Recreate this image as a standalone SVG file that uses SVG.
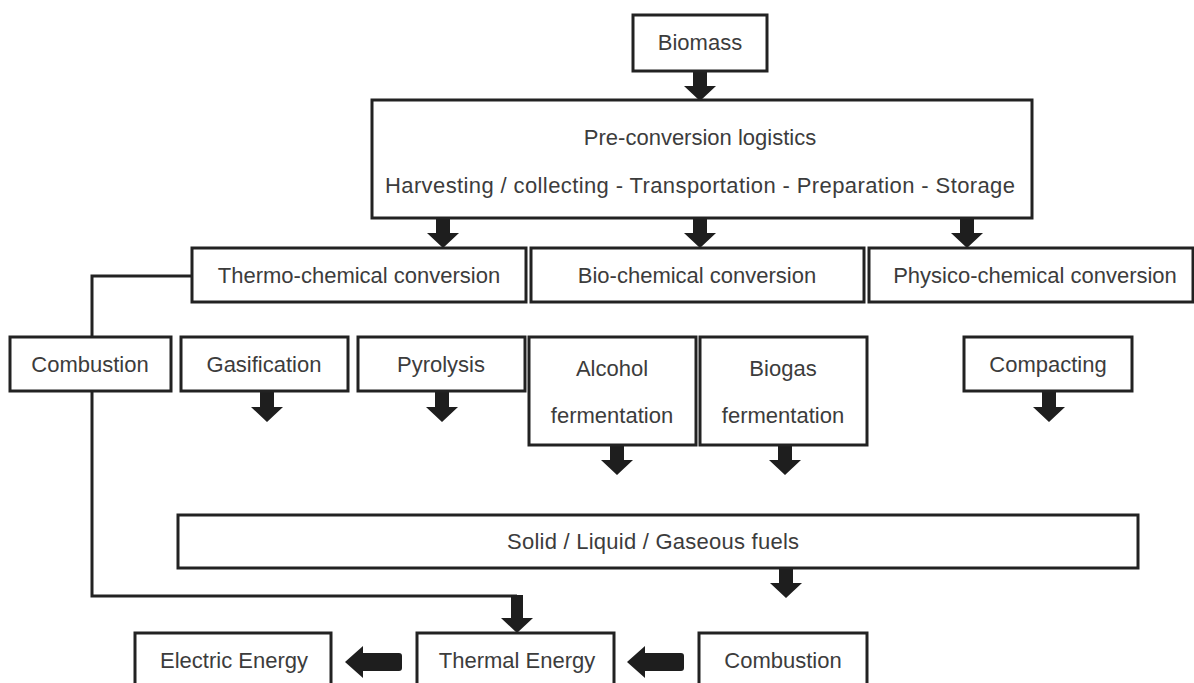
<svg xmlns="http://www.w3.org/2000/svg" width="1194" height="683" viewBox="0 0 1194 683">
<style>
.box{fill:#fff;stroke:#222;stroke-width:3}
.t{font-family:"Liberation Sans",Arial,sans-serif;font-size:22px;fill:#3c3c3c;text-anchor:middle}
.ln{fill:none;stroke:#222;stroke-width:3}
.ar{fill:#1e1e1e}
</style>
<defs>
<path id="down" d="M-7,0 H7 V15 H16 L0,30 L-16,15 H-7 Z"/>
<path id="left" d="M0,0 L18,-16 V-9 H54 Q57,-9 57,-6 V6 Q57,9 54,9 H18 V16 Z"/>
</defs>
<rect width="1194" height="683" fill="#fff"/>
<g id="connectors">
<path class="ln" d="M192,276 H92 V337"/>
<path class="ln" d="M92,391 V596 H517"/>
<use href="#down" class="ar" x="700" y="71"/>
<use href="#down" class="ar" x="443" y="218"/>
<use href="#down" class="ar" x="700" y="218"/>
<use href="#down" class="ar" x="967" y="218"/>
<use href="#down" class="ar" x="267" y="392"/>
<use href="#down" class="ar" x="442" y="392"/>
<use href="#down" class="ar" x="617" y="445"/>
<use href="#down" class="ar" x="785" y="445"/>
<use href="#down" class="ar" x="1049" y="392"/>
<use href="#down" class="ar" x="786" y="568"/>
<path class="ar" d="M511,595 H523 V618 H533 L517,633 L501,618 H511 Z"/>
<use href="#left" class="ar" x="345" y="662"/>
<use href="#left" class="ar" x="627" y="662"/>
</g>
<g id="biomass"><rect class="box" x="633" y="15" width="134" height="56"/><text class="t" x="700" y="50">Biomass</text></g>
<g id="preconversion"><rect class="box" x="372" y="100" width="660" height="118"/><text class="t" x="700" y="145">Pre-conversion logistics</text><text class="t" x="700" y="193" textLength="630">Harvesting / collecting - Transportation - Preparation - Storage</text></g>
<g id="thermo"><rect class="box" x="192" y="248" width="334" height="54"/><text class="t" x="359" y="283">Thermo-chemical conversion</text></g>
<g id="bio"><rect class="box" x="531" y="248" width="333" height="54"/><text class="t" x="697" y="283">Bio-chemical conversion</text></g>
<g id="physico"><rect class="box" x="869" y="248" width="324" height="54"/><text class="t" x="1035" y="283">Physico-chemical conversion</text></g>
<g id="combustion1"><rect class="box" x="10" y="337" width="161" height="54"/><text class="t" x="90" y="372">Combustion</text></g>
<g id="gasification"><rect class="box" x="181" y="337" width="167" height="54"/><text class="t" x="264" y="372">Gasification</text></g>
<g id="pyrolysis"><rect class="box" x="358" y="337" width="167" height="54"/><text class="t" x="441" y="372">Pyrolysis</text></g>
<g id="alcohol"><rect class="box" x="529" y="337" width="167" height="108"/><text class="t" x="612" y="376">Alcohol</text><text class="t" x="612" y="423">fermentation</text></g>
<g id="biogas"><rect class="box" x="700" y="337" width="167" height="108"/><text class="t" x="783" y="376">Biogas</text><text class="t" x="783" y="423">fermentation</text></g>
<g id="compacting"><rect class="box" x="964" y="337" width="168" height="54"/><text class="t" x="1048" y="372">Compacting</text></g>
<g id="fuels"><rect class="box" x="178" y="515" width="960" height="53"/><text class="t" x="653" y="549" textLength="292">Solid / Liquid / Gaseous fuels</text></g>
<g id="electric"><rect class="box" x="135" y="633" width="196" height="70"/><text class="t" x="234" y="668">Electric Energy</text></g>
<g id="thermal"><rect class="box" x="417" y="633" width="197" height="70"/><text class="t" x="517" y="668">Thermal Energy</text></g>
<g id="combustion2"><rect class="box" x="699" y="633" width="168" height="70"/><text class="t" x="783" y="668">Combustion</text></g>
</svg>
